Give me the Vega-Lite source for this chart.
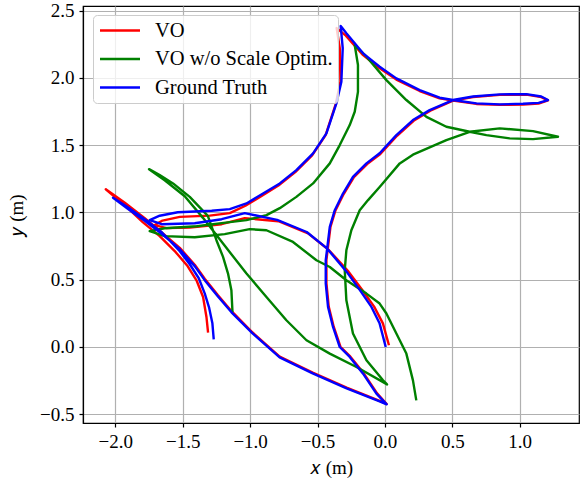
{
  "$schema": "https://vega.github.io/schema/vega-lite/v6.json",
  "width": 496,
  "height": 417,
  "autosize": {"type": "none"},
  "padding": {"left": 83, "top": 6, "right": 2, "bottom": 58},
  "background": "white",
  "config": {
    "view": {"stroke": "black", "strokeWidth": 1.2},
    "axis": {
      "domainColor": "black", "domainWidth": 1.2,
      "tickColor": "black", "tickSize": 4, "tickWidth": 1.2,
      "gridColor": "#b0b0b0", "gridWidth": 1.2,
      "labelFont": "Liberation Serif", "labelFontSize": 19, "labelColor": "black",
      "titleFont": "Liberation Serif", "titleFontSize": 19, "titleFontWeight": "normal", "titleColor": "black"
    },
    "legend": {
      "orient": "none", "legendX": 10, "legendY": 9,
      "fillColor": "rgba(255,255,255,0.8)", "strokeColor": "#cccccc", "cornerRadius": 4,
      "padding": 4.5, "labelFont": "Liberation Serif", "labelFontSize": 20.5, "labelColor": "black", "labelLimit": 0,
      "symbolType": "stroke", "symbolSize": 1600, "symbolStrokeWidth": 2.4, "symbolOffset": 1,
      "labelOffset": 13.5, "clipHeight": 22, "rowPadding": 6.5
    }
  },
  "data": {"values": [
    {"s":"VO","i":1,"x":-1.312,"y":0.107},{"s":"VO","i":2,"x":-1.324,"y":0.223},{"s":"VO","i":3,"x":-1.349,"y":0.372},{"s":"VO","i":4,"x":-1.398,"y":0.496},{"s":"VO","i":5,"x":-1.463,"y":0.600},{"s":"VO","i":6,"x":-1.552,"y":0.705},{"s":"VO","i":7,"x":-1.671,"y":0.824},{"s":"VO","i":8,"x":-1.797,"y":0.928},{"s":"VO","i":9,"x":-1.930,"y":1.054},{"s":"VO","i":10,"x":-2.071,"y":1.173},
    {"s":"VO","i":11,"x":-1.930,"y":1.072},{"s":"VO","i":12,"x":-1.782,"y":0.957},{"s":"VO","i":13,"x":-1.656,"y":0.852},{"s":"VO","i":14,"x":-1.522,"y":0.737},{"s":"VO","i":15,"x":-1.411,"y":0.611},{"s":"VO","i":16,"x":-1.337,"y":0.507},{"s":"VO","i":17,"x":-1.240,"y":0.386},{"s":"VO","i":18,"x":-1.138,"y":0.266},{"s":"VO","i":19,"x":-0.982,"y":0.108},{"s":"VO","i":20,"x":-0.781,"y":-0.071},
    {"s":"VO","i":21,"x":-0.536,"y":-0.190},{"s":"VO","i":22,"x":-0.284,"y":-0.302},{"s":"VO","i":23,"x":-0.039,"y":-0.400},{"s":"VO","i":24,"x":0.013,"y":-0.424},{"s":"VO","i":25,"x":-0.058,"y":-0.345},{"s":"VO","i":26,"x":-0.157,"y":-0.196},{"s":"VO","i":27,"x":-0.256,"y":-0.072},{"s":"VO","i":28,"x":-0.330,"y":0.002},{"s":"VO","i":29,"x":-0.380,"y":0.151},{"s":"VO","i":30,"x":-0.417,"y":0.300},
    {"s":"VO","i":31,"x":-0.434,"y":0.474},{"s":"VO","i":32,"x":-0.434,"y":0.647},{"s":"VO","i":33,"x":-0.404,"y":0.893},{"s":"VO","i":34,"x":-0.367,"y":1.015},{"s":"VO","i":35,"x":-0.306,"y":1.137},{"s":"VO","i":36,"x":-0.232,"y":1.260},{"s":"VO","i":37,"x":-0.132,"y":1.360},{"s":"VO","i":38,"x":-0.034,"y":1.435},{"s":"VO","i":39,"x":0.090,"y":1.570},{"s":"VO","i":40,"x":0.213,"y":1.682},
    {"s":"VO","i":41,"x":0.337,"y":1.757},{"s":"VO","i":42,"x":0.505,"y":1.832},{"s":"VO","i":43,"x":0.654,"y":1.858},{"s":"VO","i":44,"x":0.852,"y":1.874},{"s":"VO","i":45,"x":1.050,"y":1.876},{"s":"VO","i":46,"x":1.160,"y":1.858},{"s":"VO","i":47,"x":1.210,"y":1.834},{"s":"VO","i":48,"x":1.140,"y":1.810},{"s":"VO","i":49,"x":1.025,"y":1.803},{"s":"VO","i":50,"x":0.852,"y":1.800},
    {"s":"VO","i":51,"x":0.679,"y":1.807},{"s":"VO","i":52,"x":0.505,"y":1.832},{"s":"VO","i":53,"x":0.406,"y":1.848},{"s":"VO","i":54,"x":0.258,"y":1.903},{"s":"VO","i":55,"x":0.085,"y":1.988},{"s":"VO","i":56,"x":-0.039,"y":2.072},{"s":"VO","i":57,"x":-0.162,"y":2.170},{"s":"VO","i":58,"x":-0.290,"y":2.315},{"s":"VO","i":59,"x":-0.358,"y":2.371},{"s":"VO","i":60,"x":-0.335,"y":2.222},
    {"s":"VO","i":61,"x":-0.330,"y":1.972},{"s":"VO","i":62,"x":-0.365,"y":1.805},{"s":"VO","i":63,"x":-0.440,"y":1.575},{"s":"VO","i":64,"x":-0.540,"y":1.425},{"s":"VO","i":65,"x":-0.665,"y":1.300},{"s":"VO","i":66,"x":-0.790,"y":1.200},{"s":"VO","i":67,"x":-0.912,"y":1.125},{"s":"VO","i":68,"x":-1.035,"y":1.050},{"s":"VO","i":69,"x":-1.151,"y":0.995},{"s":"VO","i":70,"x":-1.300,"y":0.977},
    {"s":"VO","i":71,"x":-1.522,"y":0.967},{"s":"VO","i":72,"x":-1.650,"y":0.940},{"s":"VO","i":73,"x":-1.708,"y":0.906},{"s":"VO","i":74,"x":-1.620,"y":0.884},{"s":"VO","i":75,"x":-1.448,"y":0.888},{"s":"VO","i":76,"x":-1.211,"y":0.913},{"s":"VO","i":77,"x":-1.040,"y":0.958},{"s":"VO","i":78,"x":-0.790,"y":0.935},{"s":"VO","i":79,"x":-0.570,"y":0.845},{"s":"VO","i":80,"x":-0.420,"y":0.725},
    {"s":"VO","i":81,"x":-0.270,"y":0.560},{"s":"VO","i":82,"x":-0.168,"y":0.424},{"s":"VO","i":83,"x":-0.080,"y":0.300},{"s":"VO","i":84,"x":-0.015,"y":0.176},{"s":"VO","i":85,"x":0.030,"y":0.013},

    {"s":"VO w/o Scale Optim.","i":1,"x":-1.131,"y":0.260},{"s":"VO w/o Scale Optim.","i":2,"x":-1.139,"y":0.422},{"s":"VO w/o Scale Optim.","i":3,"x":-1.164,"y":0.546},{"s":"VO w/o Scale Optim.","i":4,"x":-1.201,"y":0.670},{"s":"VO w/o Scale Optim.","i":5,"x":-1.250,"y":0.794},{"s":"VO w/o Scale Optim.","i":6,"x":-1.314,"y":0.975},{"s":"VO w/o Scale Optim.","i":7,"x":-1.448,"y":1.116},{"s":"VO w/o Scale Optim.","i":8,"x":-1.572,"y":1.216},{"s":"VO w/o Scale Optim.","i":9,"x":-1.671,"y":1.278},{"s":"VO w/o Scale Optim.","i":10,"x":-1.750,"y":1.322},
    {"s":"VO w/o Scale Optim.","i":11,"x":-1.634,"y":1.240},{"s":"VO w/o Scale Optim.","i":12,"x":-1.485,"y":1.121},{"s":"VO w/o Scale Optim.","i":13,"x":-1.350,"y":0.960},{"s":"VO w/o Scale Optim.","i":14,"x":-1.201,"y":0.769},{"s":"VO w/o Scale Optim.","i":15,"x":-1.027,"y":0.546},{"s":"VO w/o Scale Optim.","i":16,"x":-0.879,"y":0.372},{"s":"VO w/o Scale Optim.","i":17,"x":-0.731,"y":0.199},{"s":"VO w/o Scale Optim.","i":18,"x":-0.582,"y":0.050},{"s":"VO w/o Scale Optim.","i":19,"x":-0.409,"y":-0.049},{"s":"VO w/o Scale Optim.","i":20,"x":-0.211,"y":-0.149},
    {"s":"VO w/o Scale Optim.","i":21,"x":0.016,"y":-0.278},{"s":"VO w/o Scale Optim.","i":22,"x":-0.014,"y":-0.248},{"s":"VO w/o Scale Optim.","i":23,"x":-0.137,"y":-0.099},{"s":"VO w/o Scale Optim.","i":24,"x":-0.237,"y":0.100},{"s":"VO w/o Scale Optim.","i":25,"x":-0.286,"y":0.347},{"s":"VO w/o Scale Optim.","i":26,"x":-0.298,"y":0.571},{"s":"VO w/o Scale Optim.","i":27,"x":-0.286,"y":0.719},{"s":"VO w/o Scale Optim.","i":28,"x":-0.249,"y":0.868},{"s":"VO w/o Scale Optim.","i":29,"x":-0.187,"y":1.017},{"s":"VO w/o Scale Optim.","i":30,"x":-0.125,"y":1.092},
    {"s":"VO w/o Scale Optim.","i":31,"x":-0.039,"y":1.190},{"s":"VO w/o Scale Optim.","i":32,"x":0.110,"y":1.365},{"s":"VO w/o Scale Optim.","i":33,"x":0.208,"y":1.430},{"s":"VO w/o Scale Optim.","i":34,"x":0.456,"y":1.538},{"s":"VO w/o Scale Optim.","i":35,"x":0.629,"y":1.600},{"s":"VO w/o Scale Optim.","i":36,"x":0.852,"y":1.625},{"s":"VO w/o Scale Optim.","i":37,"x":1.099,"y":1.605},{"s":"VO w/o Scale Optim.","i":38,"x":1.284,"y":1.563},{"s":"VO w/o Scale Optim.","i":39,"x":1.099,"y":1.545},{"s":"VO w/o Scale Optim.","i":40,"x":0.926,"y":1.551},
    {"s":"VO w/o Scale Optim.","i":41,"x":0.753,"y":1.575},{"s":"VO w/o Scale Optim.","i":42,"x":0.629,"y":1.600},{"s":"VO w/o Scale Optim.","i":43,"x":0.456,"y":1.637},{"s":"VO w/o Scale Optim.","i":44,"x":0.308,"y":1.711},{"s":"VO w/o Scale Optim.","i":45,"x":0.159,"y":1.836},{"s":"VO w/o Scale Optim.","i":46,"x":0.011,"y":1.984},{"s":"VO w/o Scale Optim.","i":47,"x":-0.137,"y":2.158},{"s":"VO w/o Scale Optim.","i":48,"x":-0.224,"y":2.245},{"s":"VO w/o Scale Optim.","i":49,"x":-0.200,"y":2.096},{"s":"VO w/o Scale Optim.","i":50,"x":-0.200,"y":1.897},
    {"s":"VO w/o Scale Optim.","i":51,"x":-0.224,"y":1.749},{"s":"VO w/o Scale Optim.","i":52,"x":-0.261,"y":1.650},{"s":"VO w/o Scale Optim.","i":53,"x":-0.335,"y":1.501},{"s":"VO w/o Scale Optim.","i":54,"x":-0.409,"y":1.365},{"s":"VO w/o Scale Optim.","i":55,"x":-0.533,"y":1.216},{"s":"VO w/o Scale Optim.","i":56,"x":-0.657,"y":1.116},{"s":"VO w/o Scale Optim.","i":57,"x":-0.780,"y":1.032},{"s":"VO w/o Scale Optim.","i":58,"x":-0.879,"y":0.980},{"s":"VO w/o Scale Optim.","i":59,"x":-1.027,"y":0.943},{"s":"VO w/o Scale Optim.","i":60,"x":-1.151,"y":0.928},
    {"s":"VO w/o Scale Optim.","i":61,"x":-1.396,"y":0.898},{"s":"VO w/o Scale Optim.","i":62,"x":-1.634,"y":0.883},{"s":"VO w/o Scale Optim.","i":63,"x":-1.745,"y":0.861},{"s":"VO w/o Scale Optim.","i":64,"x":-1.634,"y":0.824},{"s":"VO w/o Scale Optim.","i":65,"x":-1.411,"y":0.816},{"s":"VO w/o Scale Optim.","i":66,"x":-1.189,"y":0.839},{"s":"VO w/o Scale Optim.","i":67,"x":-1.004,"y":0.876},{"s":"VO w/o Scale Optim.","i":68,"x":-0.879,"y":0.868},{"s":"VO w/o Scale Optim.","i":69,"x":-0.682,"y":0.781},{"s":"VO w/o Scale Optim.","i":70,"x":-0.508,"y":0.645},
    {"s":"VO w/o Scale Optim.","i":71,"x":-0.409,"y":0.595},{"s":"VO w/o Scale Optim.","i":72,"x":-0.286,"y":0.496},{"s":"VO w/o Scale Optim.","i":73,"x":-0.137,"y":0.397},{"s":"VO w/o Scale Optim.","i":74,"x":-0.039,"y":0.323},{"s":"VO w/o Scale Optim.","i":75,"x":0.011,"y":0.249},{"s":"VO w/o Scale Optim.","i":76,"x":0.085,"y":0.100},{"s":"VO w/o Scale Optim.","i":77,"x":0.159,"y":-0.049},{"s":"VO w/o Scale Optim.","i":78,"x":0.208,"y":-0.248},{"s":"VO w/o Scale Optim.","i":79,"x":0.233,"y":-0.397},

    {"s":"Ground Truth","i":1,"x":-1.270,"y":0.057},{"s":"Ground Truth","i":2,"x":-1.280,"y":0.176},{"s":"Ground Truth","i":3,"x":-1.305,"y":0.295},{"s":"Ground Truth","i":4,"x":-1.337,"y":0.399},{"s":"Ground Truth","i":5,"x":-1.381,"y":0.511},{"s":"Ground Truth","i":6,"x":-1.448,"y":0.615},{"s":"Ground Truth","i":7,"x":-1.522,"y":0.712},{"s":"Ground Truth","i":8,"x":-1.656,"y":0.853},{"s":"Ground Truth","i":9,"x":-1.782,"y":0.950},{"s":"Ground Truth","i":10,"x":-1.908,"y":1.039},
    {"s":"Ground Truth","i":11,"x":-2.017,"y":1.110},{"s":"Ground Truth","i":12,"x":-1.908,"y":1.028},{"s":"Ground Truth","i":13,"x":-1.782,"y":0.938},{"s":"Ground Truth","i":14,"x":-1.656,"y":0.842},{"s":"Ground Truth","i":15,"x":-1.522,"y":0.727},{"s":"Ground Truth","i":16,"x":-1.411,"y":0.601},{"s":"Ground Truth","i":17,"x":-1.337,"y":0.497},{"s":"Ground Truth","i":18,"x":-1.240,"y":0.378},{"s":"Ground Truth","i":19,"x":-1.138,"y":0.258},{"s":"Ground Truth","i":20,"x":-0.982,"y":0.102},
    {"s":"Ground Truth","i":21,"x":-0.781,"y":-0.077},{"s":"Ground Truth","i":22,"x":-0.536,"y":-0.196},{"s":"Ground Truth","i":23,"x":-0.284,"y":-0.307},{"s":"Ground Truth","i":24,"x":-0.039,"y":-0.404},{"s":"Ground Truth","i":25,"x":0.013,"y":-0.426},{"s":"Ground Truth","i":26,"x":-0.063,"y":-0.347},{"s":"Ground Truth","i":27,"x":-0.162,"y":-0.198},{"s":"Ground Truth","i":28,"x":-0.261,"y":-0.074},{"s":"Ground Truth","i":29,"x":-0.335,"y":0.000},{"s":"Ground Truth","i":30,"x":-0.385,"y":0.149},
    {"s":"Ground Truth","i":31,"x":-0.422,"y":0.298},{"s":"Ground Truth","i":32,"x":-0.439,"y":0.472},{"s":"Ground Truth","i":33,"x":-0.439,"y":0.645},{"s":"Ground Truth","i":34,"x":-0.409,"y":0.893},{"s":"Ground Truth","i":35,"x":-0.372,"y":1.017},{"s":"Ground Truth","i":36,"x":-0.311,"y":1.141},{"s":"Ground Truth","i":37,"x":-0.237,"y":1.265},{"s":"Ground Truth","i":38,"x":-0.137,"y":1.365},{"s":"Ground Truth","i":39,"x":-0.039,"y":1.440},{"s":"Ground Truth","i":40,"x":0.085,"y":1.575},
    {"s":"Ground Truth","i":41,"x":0.208,"y":1.687},{"s":"Ground Truth","i":42,"x":0.332,"y":1.761},{"s":"Ground Truth","i":43,"x":0.505,"y":1.836},{"s":"Ground Truth","i":44,"x":0.654,"y":1.862},{"s":"Ground Truth","i":45,"x":0.852,"y":1.878},{"s":"Ground Truth","i":46,"x":1.050,"y":1.880},{"s":"Ground Truth","i":47,"x":1.160,"y":1.862},{"s":"Ground Truth","i":48,"x":1.210,"y":1.836},{"s":"Ground Truth","i":49,"x":1.140,"y":1.815},{"s":"Ground Truth","i":50,"x":1.025,"y":1.808},
    {"s":"Ground Truth","i":51,"x":0.852,"y":1.804},{"s":"Ground Truth","i":52,"x":0.679,"y":1.811},{"s":"Ground Truth","i":53,"x":0.505,"y":1.836},{"s":"Ground Truth","i":54,"x":0.406,"y":1.853},{"s":"Ground Truth","i":55,"x":0.258,"y":1.910},{"s":"Ground Truth","i":56,"x":0.085,"y":1.997},{"s":"Ground Truth","i":57,"x":-0.039,"y":2.083},{"s":"Ground Truth","i":58,"x":-0.162,"y":2.183},{"s":"Ground Truth","i":59,"x":-0.286,"y":2.332},{"s":"Ground Truth","i":60,"x":-0.328,"y":2.386},
    {"s":"Ground Truth","i":61,"x":-0.313,"y":2.222},{"s":"Ground Truth","i":62,"x":-0.323,"y":1.972},{"s":"Ground Truth","i":63,"x":-0.360,"y":1.811},{"s":"Ground Truth","i":64,"x":-0.434,"y":1.588},{"s":"Ground Truth","i":65,"x":-0.533,"y":1.439},{"s":"Ground Truth","i":66,"x":-0.657,"y":1.315},{"s":"Ground Truth","i":67,"x":-0.780,"y":1.216},{"s":"Ground Truth","i":68,"x":-0.904,"y":1.141},{"s":"Ground Truth","i":69,"x":-1.027,"y":1.067},{"s":"Ground Truth","i":70,"x":-1.151,"y":1.025},
    {"s":"Ground Truth","i":71,"x":-1.285,"y":1.013},{"s":"Ground Truth","i":72,"x":-1.537,"y":1.002},{"s":"Ground Truth","i":73,"x":-1.671,"y":0.976},{"s":"Ground Truth","i":74,"x":-1.745,"y":0.943},{"s":"Ground Truth","i":75,"x":-1.656,"y":0.913},{"s":"Ground Truth","i":76,"x":-1.411,"y":0.920},{"s":"Ground Truth","i":77,"x":-1.211,"y":0.950},{"s":"Ground Truth","i":78,"x":-1.040,"y":0.995},{"s":"Ground Truth","i":79,"x":-0.800,"y":0.945},{"s":"Ground Truth","i":80,"x":-0.580,"y":0.855},
    {"s":"Ground Truth","i":81,"x":-0.430,"y":0.733},{"s":"Ground Truth","i":82,"x":-0.286,"y":0.562},{"s":"Ground Truth","i":83,"x":-0.187,"y":0.425},{"s":"Ground Truth","i":84,"x":-0.100,"y":0.298},{"s":"Ground Truth","i":85,"x":-0.039,"y":0.174},{"s":"Ground Truth","i":86,"x":0.006,"y":0.000}
  ]},
  "encoding": {
    "x": {"field": "x", "type": "quantitative",
      "scale": {"domain": [-2.24, 1.44], "nice": false, "zero": false},
      "axis": {"values": [-2, -1.5, -1, -0.5, 0, 0.5, 1], "format": ".1f", "title": "𝑥 (m)", "labelPadding": 5, "titlePadding": 7}},
    "y": {"field": "y", "type": "quantitative",
      "scale": {"domain": [-0.565, 2.535], "nice": false, "zero": false},
      "axis": {"values": [-0.5, 0, 0.5, 1, 1.5, 2, 2.5], "format": ".1f", "title": "𝑦 (m)", "labelPadding": 5, "titlePadding": 13}},
    "order": {"field": "i", "type": "quantitative"},
    "color": {"field": "s", "type": "nominal",
      "scale": {"domain": ["VO", "VO w/o Scale Optim.", "Ground Truth"], "range": ["#ff0000", "#008000", "#0000ff"]},
      "legend": {"title": null}}
  },
  "layer": [
    {"transform": [{"filter": "datum.s == 'VO'"}], "mark": {"type": "line", "strokeWidth": 2.4, "strokeJoin": "round"}},
    {"transform": [{"filter": "datum.s == 'VO w/o Scale Optim.'"}], "mark": {"type": "line", "strokeWidth": 2.4, "strokeJoin": "round"}},
    {"transform": [{"filter": "datum.s == 'Ground Truth'"}], "mark": {"type": "line", "strokeWidth": 2.4, "strokeJoin": "round"}}
  ]
}
